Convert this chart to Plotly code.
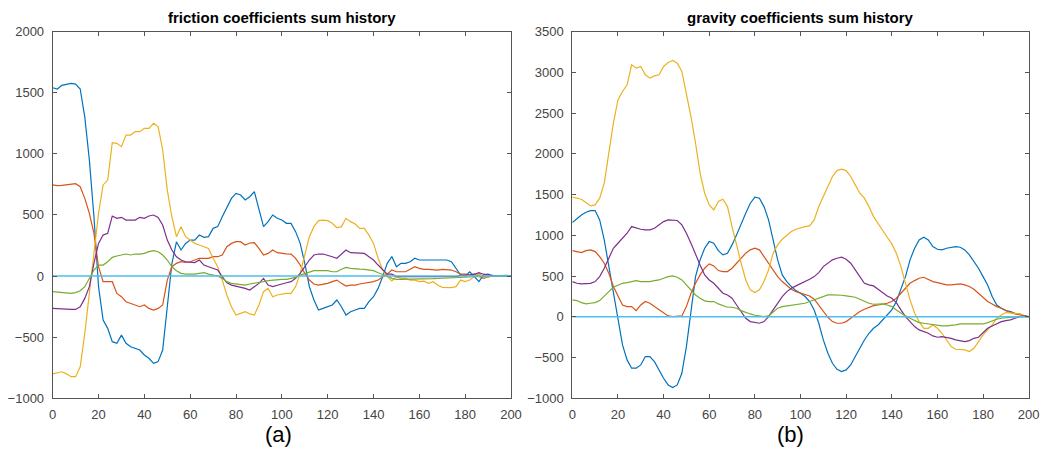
import plotly.graph_objects as go

# Iteration index (every 2nd step)
steps = list(range(0, 201, 2))

# ---- friction coefficient sums ----
fric_1 = [1540, 1530, 1560, 1570, 1575, 1570, 1530, 1300, 950, 485,
          -87, -360, -428, -537, -550, -483, -550, -578, -592, -605,
          -646, -673, -714, -700, -605, -250, 100, 280, 213, 267,
          294, 294, 335, 316, 322, 390, 404, 485, 567, 635,
          676, 663, 622, 649, 690, 540, 404, 445, 499, 472,
          458, 431, 431, 363, 267, 104, -87, -196, -278, -265,
          -251, -237, -196, -251, -319, -292, -278, -265, -265, -210,
          -169, -101, -5, 104, 160, 76, 104, 104, 117, 145,
          131, 131, 125, 125, 125, 131, 131, 117, 63, 8,
          0, 35, -5, -46, 8, 16, 0, 3, 0, 5,
          0]
fric_2 = [745, 740, 742, 745, 750, 755, 731, 635, 513, 349,
          76, -46, -46, -46, -142, -169, -210, -224, -237, -251,
          -237, -265, -278, -265, -237, -33, 76, 104, 117, 112,
          117, 131, 145, 145, 145, 158, 158, 172, 240, 267,
          281, 281, 254, 270, 273, 226, 172, 185, 213, 191,
          185, 182, 180, 145, 90, 22, -33, -65, -74, -68,
          -60, -46, -33, -60, -82, -74, -74, -65, -60, -55,
          -46, -33, -11, 16, 49, 35, 35, 35, 55, 76,
          63, 55, 55, 49, 49, 55, 55, 49, 35, 16,
          16, 8, 16, -5, -19, -8, 0, 0, 0, 0,
          0]
fric_3 = [-800, -790, -783, -800, -823, -823, -742, -469, -142, 185,
          513, 745, 785, 1091, 1085, 1058, 1153, 1153, 1181, 1181,
          1208, 1208, 1249, 1222, 1031, 703, 485, 322, 404, 322,
          294, 267, 254, 240, 226, 145, 76, -33, -155, -251,
          -319, -305, -292, -310, -319, -237, -128, -101, -169, -155,
          -147, -142, -142, -87, 22, 185, 322, 404, 453, 458,
          453, 431, 395, 404, 472, 445, 425, 390, 390, 335,
          267, 145, 49, -5, -40, -5, -19, -19, -33, -33,
          -46, -42, -60, -46, -74, -93, -95, -95, -87, -33,
          -46, -33, -5, 22, -5, -10, 2, 5, 3, 2,
          0]
fric_4 = [-265, -268, -270, -272, -273, -273, -251, -183, -87, 104,
          267, 335, 349, 491, 472, 480, 458, 458, 458, 480,
          472, 491, 499, 480, 417, 294, 213, 158, 131, 117,
          112, 110, 131, 90, 76, 63, 49, -5, -55, -74,
          -82, -87, -101, -115, -87, -60, -19, -74, -87, -74,
          -65, -55, -46, -19, 22, 76, 131, 172, 180, 180,
          172, 158, 145, 180, 213, 191, 191, 191, 185, 158,
          131, 90, 49, 16, 16, -5, -5, -5, -5, -5,
          -5, -5, -5, -5, -5, -5, -5, -5, -5, 5,
          5, 10, 15, 27, 15, 8, 3, 0, 0, 0,
          0]
fric_5 = [-128, -130, -134, -138, -142, -136, -120, -87, -19, 49,
          90, 90, 117, 153, 164, 172, 180, 172, 180, 180,
          185, 199, 207, 199, 172, 131, 76, 44, 22, 16,
          14, 16, 22, 27, 16, 8, 0, -19, -46, -60,
          -65, -74, -74, -65, -60, -55, -46, -38, -33, -33,
          -27, -27, -19, -11, 8, 22, 35, 44, 44, 44,
          44, 35, 35, 55, 71, 63, 63, 57, 55, 50,
          44, 27, 14, 0, -19, -27, -27, -27, -27, -27,
          -27, -25, -25, -22, -20, -19, -17, -15, -13, -11,
          -11, -8, -6, -5, -5, -5, -3, -2, -1, 0,
          0]
fric_6 = [0] * len(steps)

# ---- gravity coefficient sums ----
grav_1 = [1155, 1208, 1249, 1283, 1303, 1303, 1189, 943, 616, 289,
          -38, -345, -529, -631, -631, -591, -488, -488, -550, -652,
          -754, -836, -869, -836, -693, -366, 84, 493, 698, 841,
          923, 902, 812, 759, 780, 882, 1005, 1148, 1270, 1393,
          1467, 1455, 1352, 1189, 943, 698, 514, 432, 371, 321,
          289, 248, 187, 84, -79, -284, -448, -570, -644, -673,
          -652, -591, -488, -386, -284, -202, -141, -100, -38, 23,
          84, 187, 330, 493, 698, 841, 943, 976, 943, 861,
          829, 821, 841, 853, 861, 853, 821, 759, 677, 596,
          493, 391, 248, 145, 105, 76, 64, 43, 35, 11,
          0]
grav_2 = [812, 800, 788, 812, 821, 800, 739, 657, 534, 371,
          248, 145, 125, 125, 76, 145, 187, 166, 125, 84,
          43, 11, 2, 2, 11, 125, 289, 411, 514, 596,
          649, 624, 567, 555, 555, 596, 657, 718, 780, 821,
          841, 821, 739, 657, 575, 493, 432, 379, 338, 309,
          289, 268, 256, 215, 145, 64, -6, -59, -79, -79,
          -59, -18, 23, 64, 93, 117, 137, 145, 154, 166,
          187, 228, 289, 350, 411, 444, 473, 485, 461, 432,
          420, 403, 391, 391, 399, 403, 391, 371, 338, 289,
          228, 187, 158, 125, 105, 76, 52, 35, 23, 11,
          2]
grav_3 = [1467, 1455, 1442, 1401, 1360, 1373, 1455, 1639, 2007, 2375,
          2661, 2764, 2846, 3091, 3050, 3071, 2969, 2928, 2956, 2969,
          3071, 3120, 3145, 3112, 3010, 2743, 2457, 2130, 1762, 1516,
          1373, 1311, 1414, 1442, 1352, 1107, 862, 657, 452, 330,
          297, 330, 432, 575, 780, 882, 952, 1005, 1046, 1074,
          1095, 1107, 1115, 1189, 1352, 1475, 1598, 1721, 1794, 1811,
          1794, 1721, 1618, 1516, 1455, 1352, 1229, 1139, 1058, 976,
          894, 780, 616, 411, 207, 43, -59, -141, -141, -100,
          -141, -202, -284, -366, -398, -407, -407, -427, -386, -304,
          -223, -161, -100, -18, 23, 52, 52, 43, 35, 11,
          0]
grav_4 = [432, 411, 403, 403, 411, 432, 493, 596, 718, 841,
          902, 964, 1025, 1107, 1087, 1074, 1066, 1066, 1087, 1128,
          1168, 1189, 1189, 1181, 1128, 1025, 902, 759, 636, 514,
          452, 411, 350, 289, 268, 228, 145, 64, -18, -59,
          -71, -79, -59, 2, 84, 166, 248, 309, 350, 379,
          403, 432, 461, 493, 542, 616, 657, 698, 718, 731,
          706, 657, 575, 493, 411, 391, 379, 338, 297, 256,
          228, 174, 84, 2, -59, -120, -161, -182, -202, -235,
          -251, -243, -251, -264, -284, -292, -304, -292, -264, -251,
          -202, -141, -112, -88, -59, -47, -38, -18, 2, 11,
          0]
grav_5 = [207, 199, 174, 158, 166, 174, 199, 248, 309, 362,
          391, 411, 420, 432, 444, 432, 432, 432, 444, 452,
          473, 493, 502, 485, 452, 391, 330, 268, 228, 195,
          187, 187, 158, 133, 117, 117, 105, 76, 52, 35,
          19, 11, 2, 11, 64, 105, 125, 133, 133, 145,
          158, 166, 187, 207, 228, 248, 268, 268, 268, 264,
          256, 248, 240, 215, 187, 166, 154, 154, 158, 145,
          125, 84, 43, 11, -18, -47, -71, -79, -88, -100,
          -112, -112, -112, -108, -100, -88, -88, -79, -79, -88,
          -88, -71, -47, -30, -18, -10, -6, -2, -1, 0,
          0]
grav_6 = [0] * len(steps)

# MATLAB default line colour order
colors = ["#0072BD", "#D95319", "#EDB120", "#7E2F8E", "#77AC30", "#4DBEEE"]

friction = [fric_1, fric_2, fric_3, fric_4, fric_5, fric_6]
gravity = [grav_1, grav_2, grav_3, grav_4, grav_5, grav_6]

fig = go.Figure()
for series, color in zip(friction, colors):
    fig.add_trace(go.Scatter(x=steps, y=series, mode="lines", xaxis="x", yaxis="y",
                             line=dict(color=color, width=1.6 if color == "#4DBEEE" else 1.2),
                             showlegend=False, hoverinfo="skip"))
for series, color in zip(gravity, colors):
    fig.add_trace(go.Scatter(x=steps, y=series, mode="lines", xaxis="x2", yaxis="y2",
                             line=dict(color=color, width=1.6 if color == "#4DBEEE" else 1.2),
                             showlegend=False, hoverinfo="skip"))

W, H = 1053, 454
FONT = "Liberation Sans, Arial, sans-serif"
axis_common = dict(showline=True, linecolor="#555555", linewidth=1, mirror="ticks",
                   ticks="inside", ticklen=4, tickcolor="#555555", showgrid=False,
                   zeroline=False, automargin=False,
                   tickfont=dict(family=FONT, size=13, color="#444444"))

x_dom_a = [52.7 / W, 511 / W]
x_dom_b = [572.3 / W, 1028.7 / W]
y_dom = [1 - 398.3 / H, 1 - 31.5 / H]

fig.update_layout(
    width=W, height=H,
    margin=dict(l=0, r=0, t=0, b=0, autoexpand=False),
    paper_bgcolor="white", plot_bgcolor="white",
    xaxis=dict(domain=x_dom_a, range=[0, 200], tickvals=list(range(0, 201, 20)),
               anchor="y", ticklabelstandoff=4, **axis_common),
    yaxis=dict(domain=y_dom, range=[-1000, 2000],
               tickvals=list(range(-1000, 2001, 500)), anchor="x", ticklabelstandoff=5, **axis_common),
    xaxis2=dict(domain=x_dom_b, range=[0, 200], tickvals=list(range(0, 201, 20)),
                anchor="y2", ticklabelstandoff=4, **axis_common),
    yaxis2=dict(domain=y_dom, range=[-1000, 3500],
                tickvals=list(range(-1000, 3501, 500)), anchor="x2", ticklabelstandoff=5, **axis_common),
)

# titles and panel labels, placed by pixel position
labels = [
    ("<b>friction coefficients sum history</b>", 282, 18, 15),
    ("<b>gravity coefficients sum history</b>", 800, 18, 15),
    ("(a)", 278, 434, 22),
    ("(b)", 790, 434, 22),
]
for text, px, py, size in labels:
    fig.add_annotation(text=text, x=px / W, y=1 - py / H, xref="paper", yref="paper",
                       xanchor="center", yanchor="middle", showarrow=False,
                       font=dict(family=FONT, size=size, color="#000000"))

fig.write_html("out.html")
